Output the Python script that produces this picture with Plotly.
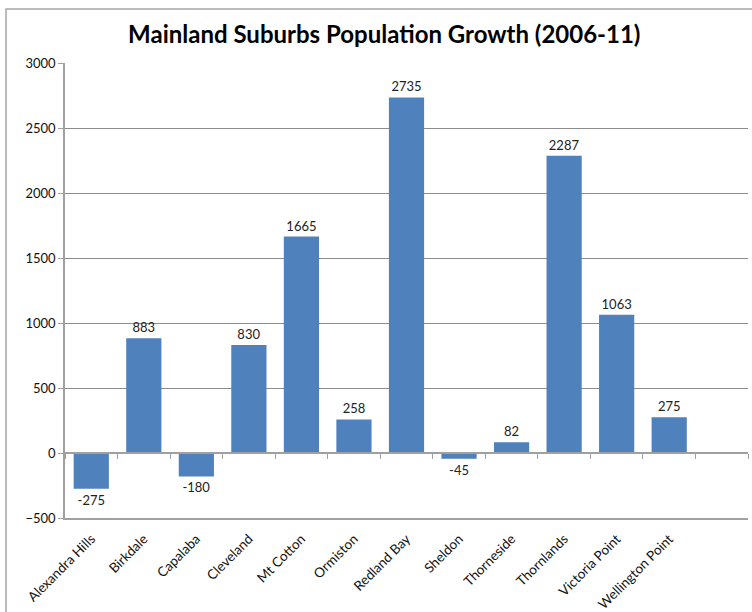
import plotly.graph_objects as go

suburbs = ["Alexandra Hills", "Birkdale", "Capalaba", "Cleveland", "Mt Cotton", "Ormiston",
           "Redland Bay", "Sheldon", "Thorneside", "Thornlands", "Victoria Point", "Wellington Point", " "]
growth = [-275, 883, -180, 830, 1665, 258, 2735, -45, 82, 2287, 1063, 275, None]
labels = [str(v) if v is not None else "" for v in growth]
y_ticks = [-500, 0, 500, 1000, 1500, 2000, 2500, 3000]

L, R, T, B = 65, 4, 63, 94
W, H = 752, 612
pw, ph = W - L - R, H - T - B

def px_x(px):
    return (px - L) / pw

def px_y(py):
    return (H - B - py) / ph

FONT = "Lato, sans-serif"

fig = go.Figure()
fig.add_trace(go.Bar(
    x=suburbs, y=growth, text=labels, textposition="outside", cliponaxis=False,
    marker=dict(color="#4F81BD", line=dict(color="#4F81BD", width=0)),
    textfont=dict(family=FONT, size=13, color="#222"),
    width=0.67, hoverinfo="x+y",
))
# empty helper trace so the zero-line tick axis is rendered
fig.add_trace(go.Scatter(x=[None], y=[None], xaxis="x2", yaxis="y", showlegend=False,
                         hoverinfo="skip", mode="markers"))

fig.update_layout(
    width=W, height=H,
    margin=dict(l=L, r=R, t=T, b=B, autoexpand=False),
    paper_bgcolor="white", plot_bgcolor="white",
    showlegend=False,
    font=dict(family=FONT, color="#111"),
    title=dict(text="<b>Mainland Suburbs Population Growth (2006-11)</b>",
               x=0.511, xanchor="center", y=1 - 35 / H, yanchor="middle", yref="container",
               font=dict(family=FONT, size=24, color="#000")),
    xaxis=dict(type="category", categoryorder="array", categoryarray=suburbs,
               range=[-0.5, len(suburbs) - 0.5], automargin=False,
               tickangle=-45, ticks="", showgrid=False, showline=True,
               ticklabelstandoff=6,
               linecolor="#A0A0A0", linewidth=1.5, zeroline=False,
               tickfont=dict(family=FONT, size=13.5, color="#111")),
    xaxis2=dict(type="linear", overlaying="x", anchor="free", automargin=False,
                position=(0 - y_ticks[0]) / (y_ticks[-1] - y_ticks[0]),
                range=[-0.5, len(suburbs) - 0.5], tick0=-0.5, dtick=1,
                ticks="outside", ticklen=5, tickcolor="#A0A0A0", tickwidth=1,
                showticklabels=False, showgrid=False, showline=True,
                linecolor="#A0A0A0", linewidth=1.5, zeroline=False),
    yaxis=dict(range=[y_ticks[0], y_ticks[-1]], tickvals=y_ticks, automargin=False,
               ticks="outside", ticklen=5, tickcolor="#A0A0A0",
               showline=True, linecolor="#A0A0A0", linewidth=1.5,
               gridcolor="#8C8C8C", gridwidth=1, zeroline=False,
               tickfont=dict(family=FONT, size=13, color="#111")),
    bargap=0.33,
    shapes=[dict(type="rect", xref="paper", yref="paper",
                 x0=px_x(6), x1=px_x(770), y0=px_y(630), y1=px_y(9),
                 line=dict(color="#A6A6A6", width=1.5), fillcolor="rgba(0,0,0,0)",
                 layer="below")],
)

fig.write_html("out.html", config={"displayModeBar": False},
               post_script="document.body.style.margin='0';document.body.style.overflow='hidden';")
